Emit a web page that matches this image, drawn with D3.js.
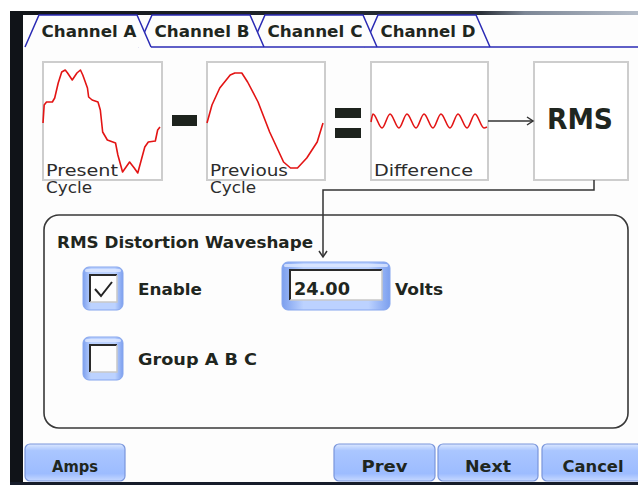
<!DOCTYPE html>
<html>
<head>
<meta charset="utf-8">
<script src="https://cdn.jsdelivr.net/npm/d3@7"></script>
<style>
  html, body { margin: 0; padding: 0; background: #fff; }
  svg { display: block; }
  text { font-family: "DejaVu Sans", sans-serif; fill: #1f2620; }
</style>
</head>
<body>
<div id="screen"></div>
<script>
/* RMS distortion waveshape setup screen */

const tabLabels = ['Channel A', 'Channel B', 'Channel C', 'Channel D'];
const activeTab = 0;

// one cycle per box: [t across box 0..1, relative amplitude]
const presentCycle = [[0,-0.04],[0.01,0.32],[0.03,0.38],[0.08,0.38],[0.1,0.46],[0.13,0.76],[0.16,0.98],[0.19,1.02],[0.21,0.96],[0.25,0.82],[0.29,0.96],[0.32,1.02],[0.34,0.92],[0.38,0.66],[0.39,0.48],[0.42,0.42],[0.47,0.38],[0.49,0.22],[0.51,-0.22],[0.55,-0.38],[0.62,-0.44],[0.64,-0.68],[0.68,-1.02],[0.71,-0.92],[0.74,-0.82],[0.78,-0.94],[0.81,-1.04],[0.87,-0.52],[0.9,-0.42],[0.96,-0.4],[0.98,-0.18],[1,-0.12]];
const previousCycle = [[0,-0.04],[0.043,0.32],[0.11,0.66],[0.2,0.92],[0.24,0.96],[0.3,0.96],[0.35,0.78],[0.44,0.38],[0.54,-0.22],[0.66,-0.82],[0.72,-0.94],[0.78,-0.94],[0.86,-0.74],[0.95,-0.42],[1,-0.04]];
const differenceWave = [[0,-0.02],[0.017,0.14],[0.095,-0.14],[0.164,0.14],[0.241,-0.14],[0.31,0.14],[0.388,-0.14],[0.457,0.14],[0.534,-0.14],[0.603,0.14],[0.681,-0.14],[0.75,0.14],[0.828,-0.14],[0.897,0.14],[0.974,-0.14],[1,-0.12]];

const stageLabels = [['Present', 'Cycle'], ['Previous', 'Cycle'], ['Difference'], []];
const optionLabels = ['Enable', 'Group A B C'];
const optionChecked = [true, false];
const limitValue = '24.00';
const limitUnit = 'Volts';
const footerButtons = ['Amps', 'Prev', 'Next', 'Cancel'];

const W = 638, H = 485;
const svg = d3.select('#screen').append('svg').attr('width', W).attr('height', H);
const defs = svg.append('defs');

// blue "glassy" gradients used by the buttons
const btnGrad = defs.append('linearGradient').attr('id', 'btnGrad').attr('x1', 0).attr('x2', 0).attr('y1', 0).attr('y2', 1);
[['0%', '#dce8ff'], ['18%', '#aac6ff'], ['80%', '#9dbcff'], ['100%', '#c6d8ff']]
  .forEach(([o, c]) => btnGrad.append('stop').attr('offset', o).attr('stop-color', c));
const frameGrad = defs.append('linearGradient').attr('id', 'frameGrad').attr('x1', 0).attr('x2', 1).attr('y1', 0).attr('y2', 0);
[['0%', '#7c9fee'], ['20%', '#bcd2ff'], ['80%', '#bcd2ff'], ['100%', '#7c9fee']]
  .forEach(([o, c]) => frameGrad.append('stop').attr('offset', o).attr('stop-color', c));
const topGrad = defs.append('linearGradient').attr('id', 'topGrad').attr('x1', 0).attr('x2', 1).attr('y1', 0).attr('y2', 0);
[['0%', '#111418'], ['75%', '#2a3038'], ['82%', '#7d8796'], ['100%', '#b4bcc8']]
  .forEach(([o, c]) => topGrad.append('stop').attr('offset', o).attr('stop-color', c));

// screen frame
svg.append('rect').attr('x', 23).attr('y', 15).attr('width', W - 23).attr('height', 467).attr('fill', '#fdfdfd');
svg.append('rect').attr('x', 10).attr('y', 11).attr('width', W - 10).attr('height', 4).attr('fill', 'url(#topGrad)');
svg.append('rect').attr('x', 10).attr('y', 11).attr('width', 13).attr('height', H - 11).attr('fill', '#101318');
svg.append('rect').attr('x', 10).attr('y', 482).attr('width', W - 10).attr('height', 3).attr('fill', '#161c2a');

// ---- tabs (drawn right to left so each one overlaps its right neighbour) ----
const tabTop = 15, tabBottom = 47, slant = 14;
const tabLeft = d3.scaleLinear().domain([0, 1]).range([39, 152]);
const tabW = 98;
const tabG = svg.append('g');
tabLabels.map((label, i) => ({ label, i })).reverse().forEach(({ label, i }) => {
  const L = tabLeft(i), R = L + tabW;
  const outline = `M${L - slant},${tabBottom} L${L},${tabTop} L${R},${tabTop} L${R + slant},${tabBottom}`;
  tabG.append('path').attr('d', outline + 'Z').attr('fill', '#fdfdfd').attr('stroke', 'none');
  tabG.append('path').attr('d', outline)
    .attr('fill', 'none').attr('stroke', '#2a2ab4').attr('stroke-width', 1.5);
  tabG.append('text')
    .attr('x', (L + R) / 2 + 1).attr('y', 37)
    .attr('text-anchor', 'middle')
    .attr('font-size', 15).attr('font-weight', 'bold')
    .attr('textLength', 95).attr('lengthAdjust', 'spacingAndGlyphs')
    .text(label);
});
// baseline runs under the inactive tabs only
tabG.append('line')
  .attr('x1', tabLeft(activeTab) + tabW + slant).attr('x2', W)
  .attr('y1', tabBottom).attr('y2', tabBottom)
  .attr('stroke', '#2a2ab4').attr('stroke-width', 1.5);

// ---- signal chain boxes ----
const boxTop = 62, boxBottom = 180;
const boxes = [[43, 162], [207, 325], [371, 488], [534, 628]];
const waves = [presentCycle, previousCycle, differenceWave];
const waveSpan = [[43, 160], [207, 323], [371, 487]];
const y = d3.scaleLinear().domain([-1, 1]).range([171, 71]);

const chain = svg.append('g');
chain.selectAll('rect.stage')
  .data(boxes)
  .join('rect')
  .attr('class', 'stage')
  .attr('x', d => d[0]).attr('y', boxTop)
  .attr('width', d => d[1] - d[0]).attr('height', boxBottom - boxTop)
  .attr('fill', '#fff').attr('stroke', '#cdcdcd').attr('stroke-width', 2);

waves.forEach((wave, i) => {
  const x = d3.scaleLinear().domain([0, 1]).range(waveSpan[i]);
  const line = d3.line()
    .x(d => x(d[0])).y(d => y(d[1]))
    .curve(i === 2 ? d3.curveMonotoneX : d3.curveLinear);
  chain.append('path')
    .datum(wave)
    .attr('d', line)
    .attr('fill', 'none').attr('stroke', '#e31414').attr('stroke-width', 1.6)
    .attr('stroke-linejoin', 'round');
});

stageLabels.forEach((lines, i) => {
  lines.forEach((t, j) => {
    chain.append('text')
      .attr('x', boxes[i][0] + 3).attr('y', 176 + j * 17)
      .attr('font-size', 15)
      .style('fill', '#2c2c2c')
      .attr('textLength', t === 'Cycle' ? 46 : t === 'Present' ? 72 : t === 'Previous' ? 78 : 99)
      .attr('lengthAdjust', 'spacingAndGlyphs')
      .text(t);
  });
});

// minus and equals signs
chain.append('rect').attr('x', 172).attr('y', 115).attr('width', 25).attr('height', 11).attr('fill', '#1d231d');
chain.append('rect').attr('x', 335).attr('y', 108).attr('width', 26).attr('height', 10).attr('fill', '#1d231d');
chain.append('rect').attr('x', 335).attr('y', 128).attr('width', 26).attr('height', 10).attr('fill', '#1d231d');

chain.append('text')
  .attr('x', 580).attr('y', 129).attr('text-anchor', 'middle')
  .attr('font-size', 28).attr('font-weight', 'bold')
  .attr('textLength', 66).attr('lengthAdjust', 'spacingAndGlyphs')
  .text('RMS');

// arrows
const drawWire = (d) => chain.append('path').attr('d', d)
  .attr('fill', 'none').attr('stroke', '#333').attr('stroke-width', 1.5);
drawWire('M488,121 H533');
drawWire('M527,117 L533,121 L527,125');
drawWire('M594,180 V190 H323 V257');
drawWire('M319,251 L323,257 L327,251');

// ---- settings group ----
const panel = svg.append('g');
panel.append('rect')
  .attr('x', 44).attr('y', 215).attr('width', 584).attr('height', 213)
  .attr('rx', 15).attr('fill', 'none').attr('stroke', '#383838').attr('stroke-width', 1.6);
panel.append('text')
  .attr('x', 57).attr('y', 248)
  .attr('font-size', 16).attr('font-weight', 'bold')
  .attr('textLength', 256).attr('lengthAdjust', 'spacingAndGlyphs')
  .text('RMS Distortion Waveshape');

function frame(g, x, y0, w, h) {
  g.append('rect').attr('x', x).attr('y', y0).attr('width', w).attr('height', h)
    .attr('rx', 6).attr('fill', 'url(#frameGrad)').attr('stroke', '#86a6ee').attr('stroke-width', 1);
  g.append('rect').attr('x', x + 2).attr('y', y0 + 2).attr('width', w - 4).attr('height', 3)
    .attr('rx', 1.5).attr('fill', '#dfe9ff').attr('opacity', 0.8);
}
function sunken(g, x, y0, w, h) {
  g.append('rect').attr('x', x).attr('y', y0).attr('width', w).attr('height', h).attr('fill', '#fdfdfd');
  g.append('path').attr('d', `M${x},${y0 + h} V${y0} H${x + w}`)
    .attr('fill', 'none').attr('stroke', '#2a2a2a').attr('stroke-width', 2);
  g.append('path').attr('d', `M${x + w},${y0} V${y0 + h} H${x}`)
    .attr('fill', 'none').attr('stroke', '#c8c8c8').attr('stroke-width', 1.5);
}

const optY = d3.scalePoint().domain(optionLabels).range([267, 337]);
optionLabels.forEach((label, i) => {
  const y0 = optY(label);
  frame(panel, 83, y0, 40, 43);
  sunken(panel, 90, y0 + 8, 27, 27);
  if (optionChecked[i]) {
    panel.append('path').attr('d', `M95,${y0 + 22} L101,${y0 + 29} L112,${y0 + 15}`)
      .attr('fill', 'none').attr('stroke', '#222').attr('stroke-width', 2);
  }
  panel.append('text')
    .attr('x', 138).attr('y', y0 + 28)
    .attr('font-size', 16).attr('font-weight', 'bold')
    .attr('textLength', label === 'Enable' ? 64 : 119).attr('lengthAdjust', 'spacingAndGlyphs')
    .text(label);
});

// value field
frame(panel, 282, 262, 108, 48);
sunken(panel, 290, 270, 92, 30);
panel.append('text')
  .attr('x', 294).attr('y', 295)
  .attr('font-size', 17).attr('font-weight', 'bold')
  .attr('textLength', 56).attr('lengthAdjust', 'spacingAndGlyphs')
  .text(limitValue);
panel.append('text')
  .attr('x', 395).attr('y', 295)
  .attr('font-size', 16).attr('font-weight', 'bold')
  .attr('textLength', 48).attr('lengthAdjust', 'spacingAndGlyphs')
  .text(limitUnit);

// ---- footer buttons ----
const btnX = [25, 334, 438, 542];
const btnW = [100, 101, 100, 100];
const footer = svg.append('g');
footerButtons.forEach((label, i) => {
  footer.append('rect')
    .attr('x', btnX[i]).attr('y', 444).attr('width', btnW[i]).attr('height', 37)
    .attr('rx', 5).attr('fill', 'url(#btnGrad)').attr('stroke', '#7a96dc').attr('stroke-width', 1.2);
  footer.append('text')
    .attr('x', btnX[i] + btnW[i] / 2 + (i === 3 ? 1 : 0)).attr('y', 472)
    .attr('text-anchor', 'middle')
    .attr('font-size', 16).attr('font-weight', 'bold')
    .attr('textLength', label === 'Cancel' ? 61 : 46).attr('lengthAdjust', 'spacingAndGlyphs')
    .text(label);
});
</script>
</body>
</html>
